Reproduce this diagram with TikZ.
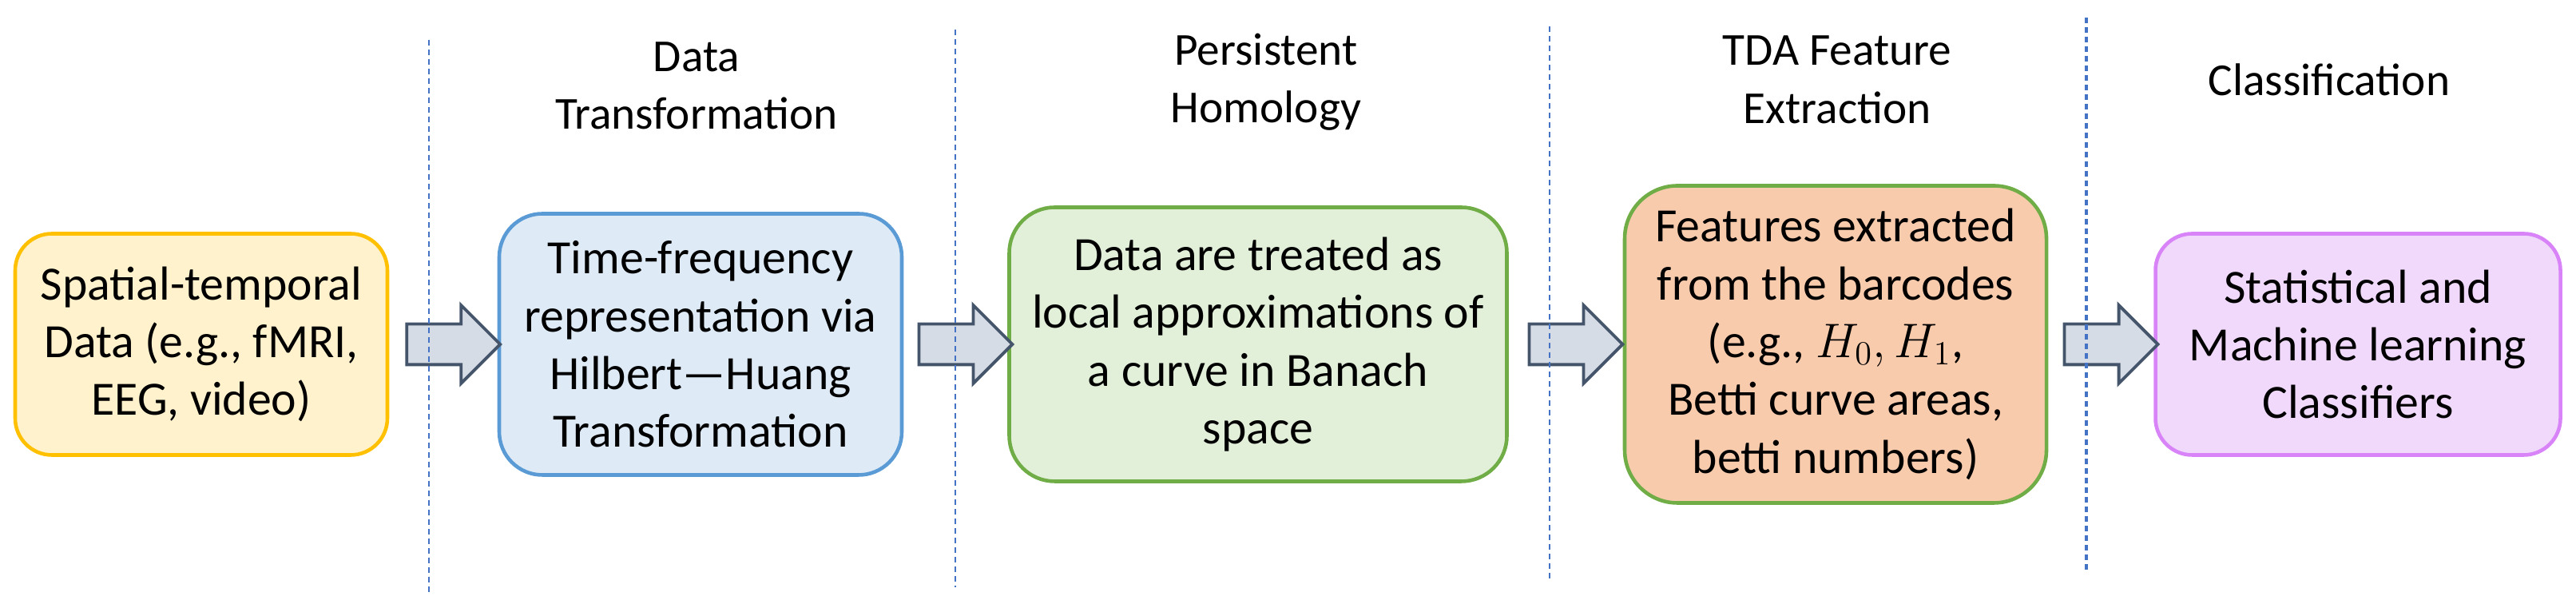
\documentclass[tikz,border=0pt]{standalone}
\usepackage{fontspec}
\setmainfont{Carlito}
\usetikzlibrary{shapes.arrows,calc}
\definecolor{yelfill}{HTML}{FFF2CC}\definecolor{yeldraw}{HTML}{FFC000}
\definecolor{bluefill}{HTML}{DEEBF7}\definecolor{bluedraw}{HTML}{5B9BD5}
\definecolor{greenfill}{HTML}{E2F0D9}\definecolor{greendraw}{HTML}{70AD47}
\definecolor{orangefill}{HTML}{F8CBAD}
\definecolor{purplefill}{HTML}{F1D9FB}\definecolor{purpledraw}{HTML}{D883F7}
\definecolor{arrowfill}{HTML}{D6DCE5}\definecolor{arrowdraw}{HTML}{44546A}
\definecolor{sepline}{HTML}{4472C4}
\begin{document}
\begin{tikzpicture}[font=\fontsize{17}{20.6}\selectfont,
  stage/.style={draw,line width=1.3pt,align=center,inner sep=0pt},
  fat/.style={single arrow,draw=arrowdraw,fill=arrowfill,line width=1.1pt,inner xsep=0pt,inner ysep=0.235cm,
    single arrow head extend=0.235cm,minimum height=1.17cm},
  phase/.style={align=center,font=\fontsize{16.3}{20.6}\selectfont},
  sep/.style={sepline,line width=0.7pt,dash pattern=on 0.07cm off 0.05cm}]
\useasboundingbox (0,0) rectangle (32.25,7.66);
% pipeline stages
\node[stage,fill=yelfill,draw=yeldraw,rounded corners=0.46cm,minimum width=4.66cm,minimum height=2.77cm] (data) at (2.52,3.35) {Spatial-temporal\\Data (e.g., fMRI,\\EEG, video)};
\node[stage,fill=bluefill,draw=bluedraw,rounded corners=0.54cm,minimum width=5.04cm,minimum height=3.27cm] (hht) at (8.77,3.35) {Time-frequency\\representation via\\Hilbert—Huang\\Transformation};
\node[stage,fill=greenfill,draw=greendraw,rounded corners=0.57cm,minimum width=6.23cm,minimum height=3.43cm] (ph) at (15.75,3.35) {Data are treated as\\local approximations of\\a curve in Banach\\space};
\node[stage,fill=orangefill,draw=greendraw,rounded corners=0.66cm,minimum width=5.28cm,minimum height=3.97cm] (feat) at (22.98,3.35) {Features extracted\\from the barcodes\\(e.g., $H_0, H_1$,\\Betti curve areas,\\betti numbers)};
\node[stage,fill=purplefill,draw=purpledraw,rounded corners=0.46cm,minimum width=5.07cm,minimum height=2.77cm] (clf) at (29.52,3.35) {Statistical and\\Machine learning\\Classifiers};
% block arrows
\node[fat] (a1) at ($(data.east)!0.5!(hht.west)$) {};
\node[fat] (a2) at ($(hht.east)!0.5!(ph.west)$) {};
\node[fat] (a3) at ($(ph.east)!0.5!(feat.west)$) {};
\node[fat] (a4) at ($(feat.east)!0.5!(clf.west)$) {};
% phase titles
\node[phase] (t2) at (8.72,6.585) {Data\\Transformation};
\node[phase] (t3) at (15.85,6.63) {Persistent\\Homology};
\node[phase] (t4) at (23.0,6.66) {TDA Feature\\Extraction};
\node[phase] (t5) at (29.16,6.66) {Classification};
% separators
\draw[sep] (5.37,7.16) -- (5.37,0.21);
\draw[sep] (11.96,7.29) -- (11.96,0.31);
\draw[sep] (19.40,7.33) -- (19.40,0.41);
\draw[sep,line width=1pt] (26.12,7.44) -- (26.12,0.49);
\end{tikzpicture}
\end{document}
